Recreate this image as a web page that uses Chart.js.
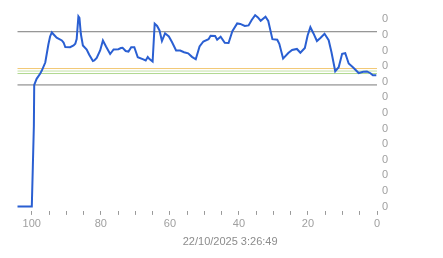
<!DOCTYPE html>
<html>
<head>
<meta charset="utf-8">
<script src="https://cdn.jsdelivr.net/npm/chart.js@4/dist/chart.umd.min.js"></script>
<style>
  html, body { margin: 0; padding: 0; background: #fff; }
  #wrap { width: 443px; height: 258px; }
</style>
</head>
<body>
<div id="wrap"><canvas id="chart"></canvas></div>
<script>
// samples back in time (0 = now)
const xs = [104.2, 100.0, 99.7, 99.4, 99.3, 98.6, 97.6, 97.1, 96.1, 95.2, 94.7, 94.2, 93.8, 92.8, 91.3, 90.8,
  90.3, 88.9, 87.9, 87.4, 87.0, 86.5, 86.2, 85.8, 85.2, 84.1, 83.4, 82.3, 81.9, 81.2, 80.2, 79.4,
  78.5, 77.3, 76.3, 74.9, 74.2, 73.7, 72.8, 72.0, 71.2, 70.3, 69.3, 67.7, 67.0, 66.4, 65.9, 65.0,
  64.4, 63.7, 63.0, 62.3, 61.4, 60.3, 59.4, 58.2, 57.0, 55.9, 54.7, 53.6, 52.5, 51.4, 50.3, 48.8,
  48.2, 46.9, 46.3, 45.3, 44.1, 43.0, 41.9, 40.5, 39.6, 38.3, 37.2, 36.3, 35.3, 34.5, 33.7, 32.3,
  31.5, 30.3, 28.9, 28.3, 27.2, 25.7, 24.6, 23.2, 22.2, 20.9, 20.1, 19.3, 18.4, 17.4, 16.4, 15.2,
  14.0, 13.2, 12.1, 11.1, 10.1, 9.2, 8.2, 6.9, 5.3, 4.0, 2.9, 1.9, 1.2, 0.2];
const ys = [0, 0, 0.0510, 0.1037, 0.1560, 0.1638, 0.1702, 0.1744, 0.1847, 0.2078, 0.2181, 0.2233, 0.2213, 0.2165, 0.2130, 0.2104,
  0.2046, 0.2044, 0.2066, 0.2087, 0.2149, 0.2438, 0.2419, 0.2216, 0.2066, 0.2014, 0.1950, 0.1866, 0.1873, 0.1905, 0.2001, 0.2130,
  0.2053, 0.1956, 0.2014, 0.2018, 0.2033, 0.2036, 0.1995, 0.1988, 0.2044, 0.2044, 0.1915, 0.1888, 0.1873, 0.1918, 0.1892, 0.1860,
  0.2344, 0.2316, 0.2258, 0.2123, 0.2222, 0.2181, 0.2111, 0.2001, 0.2001, 0.1979, 0.1965, 0.1920, 0.1889, 0.2053, 0.2117, 0.2145,
  0.2190, 0.2188, 0.2140, 0.2177, 0.2100, 0.2098, 0.2248, 0.2348, 0.2342, 0.2316, 0.2323, 0.2393, 0.2455, 0.2425, 0.2383, 0.2434,
  0.2380, 0.2147, 0.2140, 0.2087, 0.1898, 0.1969, 0.2008, 0.2021, 0.1972, 0.2033, 0.2194, 0.2301, 0.2220, 0.2123, 0.2162, 0.2216,
  0.2134, 0.1982, 0.1735, 0.1787, 0.1959, 0.1967, 0.1834, 0.1783, 0.1712, 0.1728, 0.1733, 0.1710, 0.1684, 0.1684];

// reference levels
const levelHigh = 0.2242;
const levelLow = 0.1560;
const levelOrange = 0.1770;
const levelGreen1 = 0.1738;
const levelGreen2 = 0.1706;

const yTicks = [0, 0.02, 0.04, 0.06, 0.08, 0.10, 0.12, 0.14, 0.16, 0.18, 0.20, 0.22, 0.24];
const xTicks = [0, 5, 10, 15, 20, 25, 30, 35, 40, 45, 50, 55, 60, 65, 70, 75, 80, 85, 90, 95, 100];
const xMax = 104.2;
const stamp = '22/10/2025 3:26:49';

const font = { family: '"Liberation Sans", Arial, sans-serif', size: 11 };

function level(v, color) {
  return {
    data: [{ x: 0, y: v }, { x: xMax, y: v }],
    borderColor: color, borderWidth: 1, pointRadius: 0, fill: false, order: 2
  };
}

new Chart(document.querySelector('#chart'), {
  type: 'line',
  data: {
    datasets: [
      {
        data: xs.map((x, i) => ({ x: x, y: ys[i] })),
        borderColor: '#2a5fd2', borderWidth: 2, pointRadius: 0, tension: 0, fill: false, order: 1
      },
      level(levelOrange, '#f2c873'),
      level(levelGreen1, '#c4e2a6'),
      level(levelGreen2, '#b0d88f'),
      level(levelHigh, '#7a7a7a'),
      level(levelLow, '#7a7a7a')
    ]
  },
  options: {
    responsive: true,
    maintainAspectRatio: false,
    animation: false,
    layout: { padding: { left: 17.3, top: 11.2, right: 0, bottom: 9.5 } },
    plugins: {
      legend: { display: false },
      tooltip: { enabled: false },
      title: {
        display: true, text: stamp, position: 'bottom',
        color: '#8c8c8c', font: { family: font.family, size: 11, weight: 'normal' }, padding: 0
      }
    },
    scales: {
      x: {
        type: 'linear', reverse: true, min: 0, max: xMax,
        afterBuildTicks: s => { s.ticks = xTicks.map(v => ({ value: v })); },
        afterFit: s => { s.height = 24.4; },
        border: { display: false },
        grid: { drawOnChartArea: false, drawTicks: true, tickLength: 4, color: '#9a9a9a' },
        ticks: {
          color: '#a0a0a0', font: font, padding: 2, maxRotation: 0, autoSkip: false,
          callback: v => (v % 20 === 0 ? String(v) : '')
        }
      },
      y: {
        position: 'right', min: -0.0055, max: 0.25,
        afterBuildTicks: s => { s.ticks = yTicks.map(v => ({ value: v })); },
        afterFit: s => { s.width = 66; },
        border: { display: false },
        grid: { display: false, drawTicks: false },
        ticks: {
          color: '#a0a0a0', font: font, padding: 5,
          callback: v => v.toFixed(0)
        }
      }
    }
  }
});
</script>
</body>
</html>
